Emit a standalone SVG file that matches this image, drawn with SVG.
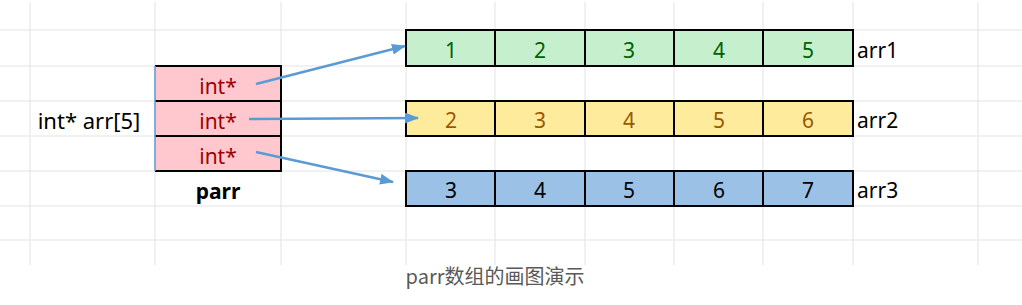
<svg xmlns="http://www.w3.org/2000/svg" width="1022" height="305" viewBox="0 0 1022 305">
<defs>
<marker id="ah" markerWidth="14" markerHeight="11" refX="13" refY="5.5" orient="auto" markerUnits="userSpaceOnUse">
<path d="M0,0 L14,5.5 L0,11 Z" fill="#5B9BD5"/>
</marker>
<style>
.g{stroke:#E3E3E3;stroke-width:1;fill:none}
.t{font-family:"Noto Sans","Noto Sans CJK SC",sans-serif;font-size:21px;text-anchor:middle}
.s{font-family:"Noto Sans","Noto Sans CJK SC",sans-serif;font-size:21px;text-anchor:start}
.c{stroke:#000;stroke-width:2;fill:none}
.conn{stroke:#5B9BD5;stroke-width:2.5;fill:none}
</style>
</defs>
<rect width="1022" height="305" fill="#fff"/>
<g id="grid">
<path class="g" d="M30,2V265M155,2V265M281,2V265M406,2V265M495,2V265M585,2V265M674,2V265M763,2V265M853,2V265M978,2V265"/>
<path class="g" d="M0,30H1022M0,66H1022M0,101H1022M0,136H1022M0,171H1022M0,206H1022M0,240H1022"/>
</g>
<g id="parr">
<rect x="155" y="66" width="126" height="105" fill="#FFC7CE"/>
<path class="c" d="M155,66H281V171H155M155,101H281M155,136H281"/>
<path d="M155,66V171" stroke="#5B9BD5" stroke-width="1.5"/>
<text class="t" x="218" y="94" fill="#9C0006">int*</text>
<text class="t" x="218" y="129" fill="#9C0006">int*</text>
<text class="t" x="218" y="164" fill="#9C0006">int*</text>
<text class="t" x="218" y="199" fill="#000" font-weight="bold">parr</text>
</g>
<g id="label-arr">
<text class="t" x="89" y="129" fill="#000" style="font-size:22px">int* arr[5]</text>
</g>
<g id="arr1">
<rect x="406" y="30" width="447" height="36" fill="#C6EFCE"/>
<path class="c" d="M406,30H853V66H406ZM495,30V66M585,30V66M674,30V66M763,30V66"/>
<g class="t" fill="#006100">
<text x="451" y="58">1</text><text x="540" y="58">2</text><text x="629" y="58">3</text><text x="719" y="58">4</text><text x="808" y="58">5</text>
</g>
<text class="s" x="857" y="58" fill="#000">arr1</text>
</g>
<g id="arr2">
<rect x="406" y="101" width="447" height="35" fill="#FFEB9C"/>
<path class="c" d="M406,101H853V136H406ZM495,101V136M585,101V136M674,101V136M763,101V136"/>
<g class="t" fill="#9C5700">
<text x="451" y="128">2</text><text x="540" y="128">3</text><text x="629" y="128">4</text><text x="719" y="128">5</text><text x="808" y="128">6</text>
</g>
<text class="s" x="857" y="128" fill="#000">arr2</text>
</g>
<g id="arr3">
<rect x="406" y="171" width="447" height="35" fill="#9BC2E6"/>
<path class="c" d="M406,171H853V206H406ZM495,171V206M585,171V206M674,171V206M763,171V206"/>
<g class="t" fill="#000">
<text x="451" y="198">3</text><text x="540" y="198">4</text><text x="629" y="198">5</text><text x="719" y="198">6</text><text x="808" y="198">7</text>
</g>
<text class="s" x="857" y="198" fill="#000">arr3</text>
</g>
<g id="connectors">
<path class="conn" d="M256,84L405,46" marker-end="url(#ah)"/>
<path class="conn" d="M249,119L418,118" marker-end="url(#ah)"/>
<path class="conn" d="M256,152L393,182" marker-end="url(#ah)"/>
</g>
<g id="caption">
<text x="495" y="284" font-family="'Noto Sans CJK SC',sans-serif" font-size="20" fill="#595959" text-anchor="middle">parr数组的画图演示</text>
</g>
</svg>
